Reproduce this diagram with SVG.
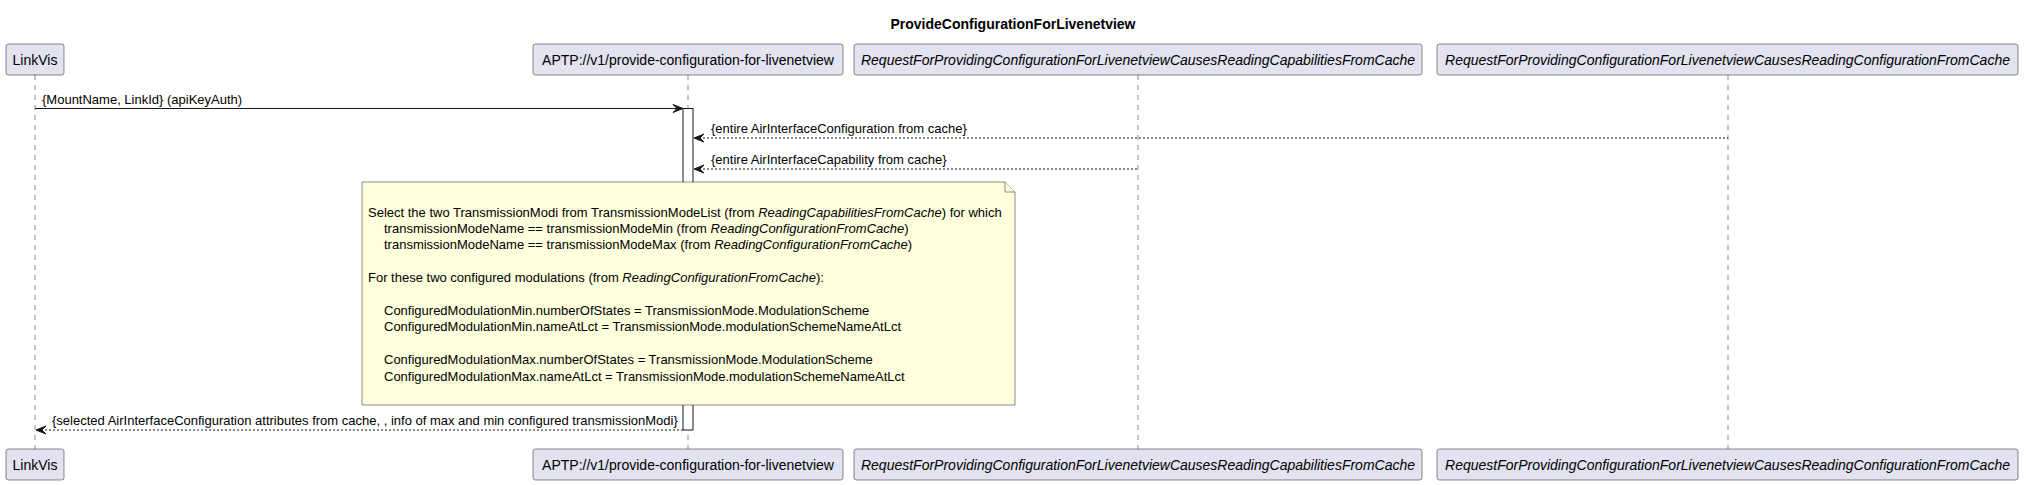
<svg xmlns="http://www.w3.org/2000/svg" width="2026" height="485" viewBox="0 0 2026 485">
<style>
text{font-family:"Liberation Sans",Arial,sans-serif;fill:#000000}
.title{font-size:14px;font-weight:bold}
.pt{font-size:14px}
.it{font-style:italic}
.msg{font-size:13px}
.note{font-size:13px}
.box{fill:#E2E2F0;stroke:#181818;stroke-width:0.5}
.life{stroke:#181818;stroke-width:0.5;stroke-dasharray:5,5;fill:none}
.line{stroke:#181818;stroke-width:1;fill:none}
.dash{stroke:#181818;stroke-width:1;stroke-dasharray:2,2;fill:none}
.head{fill:#181818;stroke:#181818;stroke-width:1}
.act{fill:#FFFFFF;stroke:#181818;stroke-width:1}
.nt{fill:#FEFFDD;stroke:#181818;stroke-width:0.5}
</style>
<text class="title" x="1013" y="29" text-anchor="middle">ProvideConfigurationForLivenetview</text>
<g id="lifelines">
<line class="life" x1="35" y1="75" x2="35" y2="449"/>
<line class="life" x1="688" y1="75" x2="688" y2="449"/>
<line class="life" x1="1138" y1="75" x2="1138" y2="449"/>
<line class="life" x1="1728" y1="75" x2="1728" y2="449"/>
</g>
<g id="LinkVis">
<rect class="box" x="6" y="44" width="58" height="31" rx="2.5"/>
<text class="pt" x="35" y="64.5" text-anchor="middle">LinkVis</text>
<rect class="box" x="6" y="449" width="58" height="31" rx="2.5"/>
<text class="pt" x="35" y="469.5" text-anchor="middle">LinkVis</text>
</g>
<g id="APTP">
<rect class="box" x="533" y="44" width="310" height="31" rx="2.5"/>
<text class="pt" x="688" y="64.5" text-anchor="middle">APTP://v1/provide-configuration-for-livenetview</text>
<rect class="box" x="533" y="449" width="310" height="31" rx="2.5"/>
<text class="pt" x="688" y="469.5" text-anchor="middle">APTP://v1/provide-configuration-for-livenetview</text>
</g>
<g id="ReadingCapabilities">
<rect class="box" x="854" y="44" width="568" height="31" rx="2.5"/>
<text class="pt it" x="1138" y="64.5" text-anchor="middle">RequestForProvidingConfigurationForLivenetviewCausesReadingCapabilitiesFromCache</text>
<rect class="box" x="854" y="449" width="568" height="31" rx="2.5"/>
<text class="pt it" x="1138" y="469.5" text-anchor="middle">RequestForProvidingConfigurationForLivenetviewCausesReadingCapabilitiesFromCache</text>
</g>
<g id="ReadingConfiguration">
<rect class="box" x="1437" y="44" width="581" height="31" rx="2.5"/>
<text class="pt it" x="1727.5" y="64.5" text-anchor="middle">RequestForProvidingConfigurationForLivenetviewCausesReadingConfigurationFromCache</text>
<rect class="box" x="1437" y="449" width="581" height="31" rx="2.5"/>
<text class="pt it" x="1727.5" y="469.5" text-anchor="middle">RequestForProvidingConfigurationForLivenetviewCausesReadingConfigurationFromCache</text>
</g>
<g id="activation">
<rect class="act" x="683" y="108.5" width="10" height="321.5"/>
</g>
<g id="connectors">
<line class="line" x1="35" y1="108.5" x2="682" y2="108.5"/>
<polygon class="head" points="673,104.5 683,108.5 673,112.5 677,108.5"/>
<text class="msg" x="42" y="103.5">{MountName, LinkId} (apiKeyAuth)</text>
<line class="dash" x1="695" y1="138" x2="1728" y2="138"/>
<polygon class="head" points="704,134 694,138 704,142 700,138"/>
<text class="msg" x="711" y="133">{entire AirInterfaceConfiguration from cache}</text>
<line class="dash" x1="695" y1="169" x2="1138" y2="169"/>
<polygon class="head" points="704,165 694,169 704,173 700,169"/>
<text class="msg" x="711" y="164">{entire AirInterfaceCapability from cache}</text>
<line class="dash" x1="37" y1="430" x2="683" y2="430"/>
<polygon class="head" points="46,426 36,430 46,434 42,430"/>
<text class="msg" x="52" y="425">{selected AirInterfaceConfiguration attributes from cache, , info of max and min configured transmissionModi}</text>
</g>
<g id="note">
<path class="nt" d="M362,182 L1005,182 L1015,192 L1015,405 L362,405 Z"/>
<path class="nt" d="M1005,182 L1005,192 L1015,192"/>
<text class="note" x="368" y="216.5">Select the two TransmissionModi from TransmissionModeList (from <tspan class="it">ReadingCapabilitiesFromCache</tspan>) for which</text>
<text class="note" x="384" y="232.9">transmissionModeName == transmissionModeMin (from <tspan class="it">ReadingConfigurationFromCache</tspan>)</text>
<text class="note" x="384" y="249.3">transmissionModeName == transmissionModeMax (from <tspan class="it">ReadingConfigurationFromCache</tspan>)</text>
<text class="note" x="368" y="282.1">For these two configured modulations (from <tspan class="it">ReadingConfigurationFromCache</tspan>):</text>
<text class="note" x="384" y="314.9">ConfiguredModulationMin.numberOfStates = TransmissionMode.ModulationScheme</text>
<text class="note" x="384" y="331.3">ConfiguredModulationMin.nameAtLct = TransmissionMode.modulationSchemeNameAtLct</text>
<text class="note" x="384" y="364.1">ConfiguredModulationMax.numberOfStates = TransmissionMode.ModulationScheme</text>
<text class="note" x="384" y="380.5">ConfiguredModulationMax.nameAtLct = TransmissionMode.modulationSchemeNameAtLct</text>
</g>
</svg>
